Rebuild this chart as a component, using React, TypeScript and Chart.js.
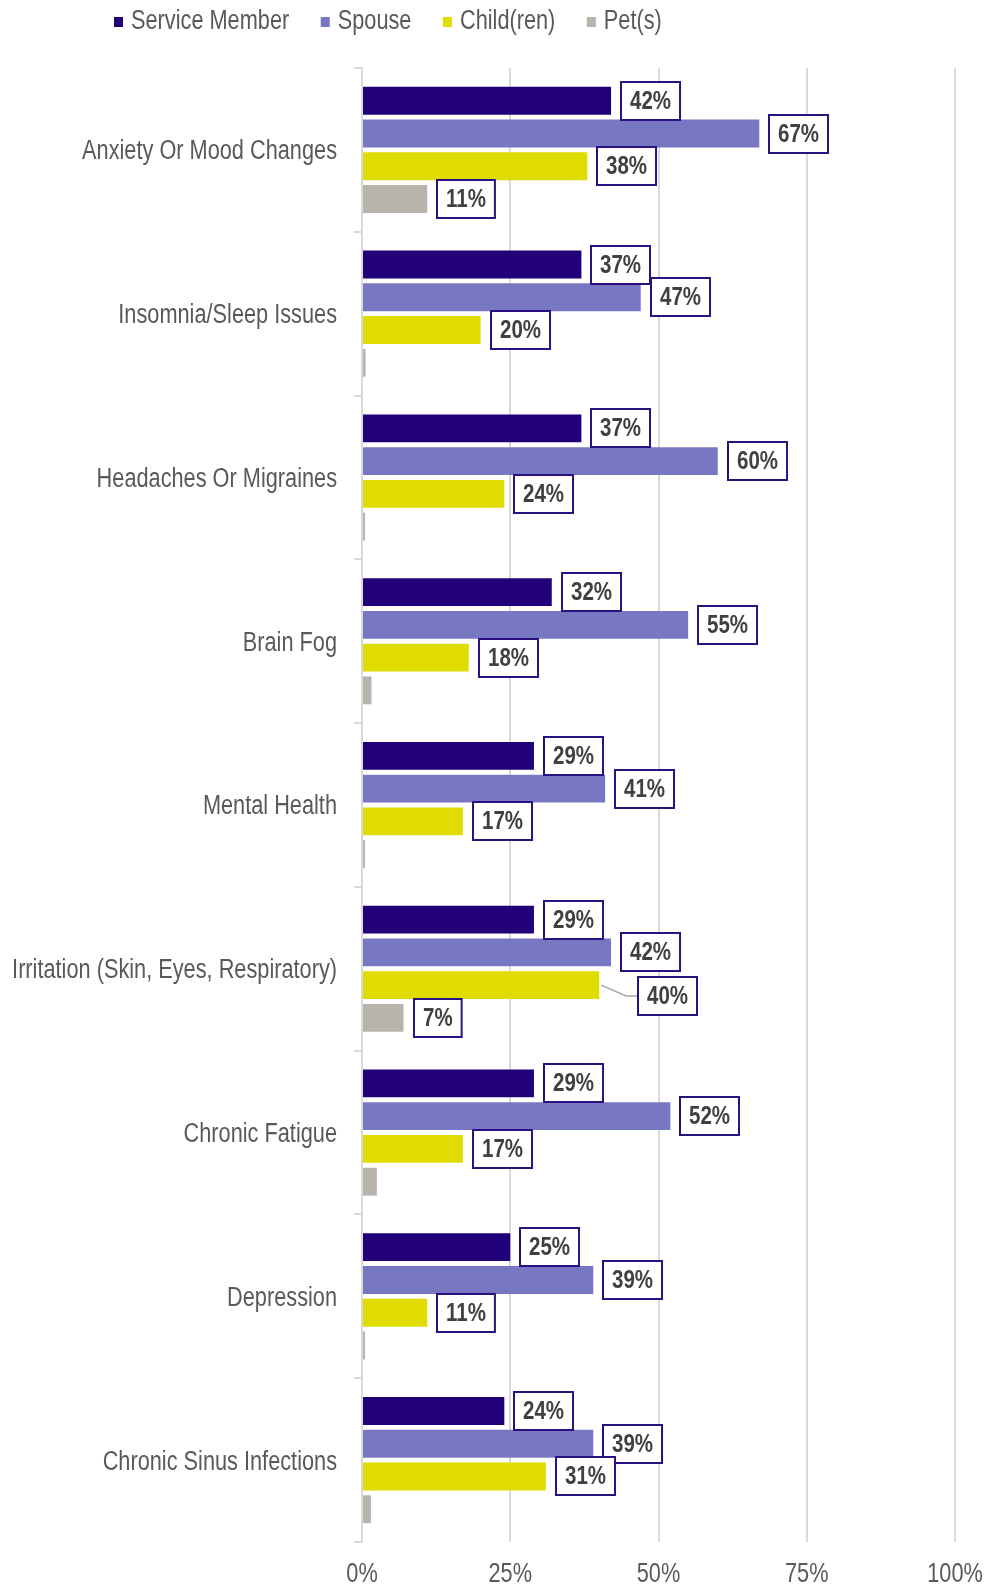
import React, { useEffect, useRef } from 'react';
import { Chart, registerables } from 'chart.js';

Chart.register(...registerables);

const categories = [
  'Anxiety Or Mood Changes',
  'Insomnia/Sleep Issues',
  'Headaches Or Migraines',
  'Brain Fog',
  'Mental Health',
  'Irritation (Skin, Eyes, Respiratory)',
  'Chronic Fatigue',
  'Depression',
  'Chronic Sinus Infections',
];
const seriesNames = ['Service Member', 'Spouse', 'Child(ren)', 'Pet(s)'];
const serviceMember = [42, 37, 37, 32, 29, 29, 29, 25, 24];
const spouse = [67, 47, 60, 55, 41, 42, 52, 39, 39];
const children = [38, 20, 24, 18, 17, 40, 17, 11, 31];
const pets = [11, 0.6, 0.5, 1.6, 0.5, 7, 2.5, 0.5, 1.5];
const tickValues = [0, 25, 50, 75, 100];
const tickLabels = ['0%', '25%', '50%', '75%', '100%'];

const colors = ['#22007a', '#7878c2', '#e0dc00', '#b8b3ab'];
const FONT = '"Liberation Sans", Arial, sans-serif';
const SX = 0.82; // narrow (condensed) rendering of value text
const SX_LABEL = 0.805;
const TEXT_GRAY = '#595959';

function drawNarrowText(ctx: CanvasRenderingContext2D, text: string, x: number, y: number, align: CanvasTextAlign, sx: number = SX) {
  ctx.save();
  ctx.translate(x, y);
  ctx.scale(sx, 1);
  ctx.textAlign = align;
  ctx.fillText(text, 0, 0);
  ctx.restore();
}

const textPlugin = {
  id: 'narrowText',
  afterDraw(chart: any) {
    const ctx: CanvasRenderingContext2D = chart.ctx;
    ctx.save();
    ctx.textBaseline = 'middle';
    ctx.fillStyle = TEXT_GRAY;
    ctx.font = `27px ${FONT}`;
    // legend
    let x = 114;
    const ly = 22;
    seriesNames.forEach((name, i) => {
      ctx.fillStyle = colors[i];
      ctx.fillRect(x, ly - 5, 9, 10);
      x += 17;
      ctx.fillStyle = TEXT_GRAY;
      drawNarrowText(ctx, name, x, ly, 'left', SX_LABEL);
      x += ctx.measureText(name).width * SX_LABEL + 31.5;
    });
    // category labels
    const yScale = chart.scales.y;
    categories.forEach((c, i) => {
      const y = yScale.getPixelForValue(i);
      drawNarrowText(ctx, c, chart.chartArea.left - 25, y + 2, 'right', SX_LABEL);
    });
    // x tick labels
    const xScale = chart.scales.x;
    tickValues.forEach((v, i) => {
      drawNarrowText(ctx, tickLabels[i], xScale.getPixelForValue(v), 1575, 'center', SX_LABEL);
    });
    ctx.restore();
  },
};

const labelOffsets: Record<string, { dx: number; dy: number }> = {
  '2-5': { dx: 39, dy: 11 },
};

const valueLabelPlugin = {
  id: 'valueLabels',
  afterDatasetsDraw(chart: any) {
    const ctx: CanvasRenderingContext2D = chart.ctx;
    ctx.save();
    ctx.font = `bold 25px ${FONT}`;
    ctx.textBaseline = 'middle';
    chart.data.datasets.forEach((ds: any, di: number) => {
      const meta = chart.getDatasetMeta(di);
      meta.data.forEach((bar: any, i: number) => {
        const v = ds.data[i];
        if (v < 5) return;
        const text = Math.round(v) + '%';
        const tw = ctx.measureText(text).width * SX;
        const w = tw + 18;
        const h = 38;
        const off = labelOffsets[`${di}-${i}`];
        const dx = off ? off.dx : 10;
        const dy = off ? off.dy : 0;
        const left = Math.round(bar.x + dx);
        const cy = Math.round(bar.y + dy);
        if (off) {
          ctx.strokeStyle = '#a6a6a6';
          ctx.lineWidth = 1.5;
          ctx.beginPath();
          ctx.moveTo(bar.x + 2, bar.y);
          ctx.lineTo(bar.x + 27, cy);
          ctx.lineTo(left, cy);
          ctx.stroke();
        }
        ctx.fillStyle = '#ffffff';
        ctx.fillRect(left, cy - h / 2, w, h);
        ctx.strokeStyle = '#2a1080';
        ctx.lineWidth = 2;
        ctx.strokeRect(left, cy - h / 2, w, h);
        ctx.fillStyle = '#404040';
        drawNarrowText(ctx, text, left + w / 2, cy + 1, 'center');
      });
    });
    ctx.restore();
  },
};

export default function App() {
  const ref = useRef<HTMLCanvasElement | null>(null);
  useEffect(() => {
    document.body.style.margin = '0';
    const canvas = ref.current;
    if (!canvas) return;
    const seriesData = [serviceMember, spouse, children, pets];
    const chart = new Chart(canvas, {
      type: 'bar',
      data: {
        labels: categories,
        datasets: seriesNames.map((name, i) => ({
          label: name,
          data: seriesData[i],
          backgroundColor: colors[i],
          borderWidth: 0,
          categoryPercentage: 0.8,
          barPercentage: 0.85,
        })),
      },
      options: {
        indexAxis: 'y',
        responsive: false,
        animation: false,
        layout: { padding: { top: 68, right: 38, left: 0, bottom: 0 } },
        plugins: {
          legend: { display: false },
          tooltip: { enabled: false },
        },
        scales: {
          x: {
            min: 0,
            max: 100,
            ticks: { stepSize: 25, display: false },
            grid: { color: '#d9d9d9', lineWidth: 2, drawTicks: false },
            border: { display: false },
            afterFit: (scale: any) => {
              scale.height = 45;
            },
          },
          y: {
            ticks: { display: false },
            grid: {
              offset: true,
              drawOnChartArea: false,
              color: '#d9d9d9',
              lineWidth: 2,
              tickLength: 8,
            },
            border: { color: '#d9d9d9', width: 2 },
            afterFit: (scale: any) => {
              scale.width = 362;
            },
          },
        },
      },
      plugins: [textPlugin, valueLabelPlugin],
    });
    return () => chart.destroy();
  }, []);
  return (
    <div style={{ width: 993, height: 1587, background: '#fff' }}>
      <canvas ref={ref} width={993} height={1587} style={{ display: 'block' }} />
    </div>
  );
}
